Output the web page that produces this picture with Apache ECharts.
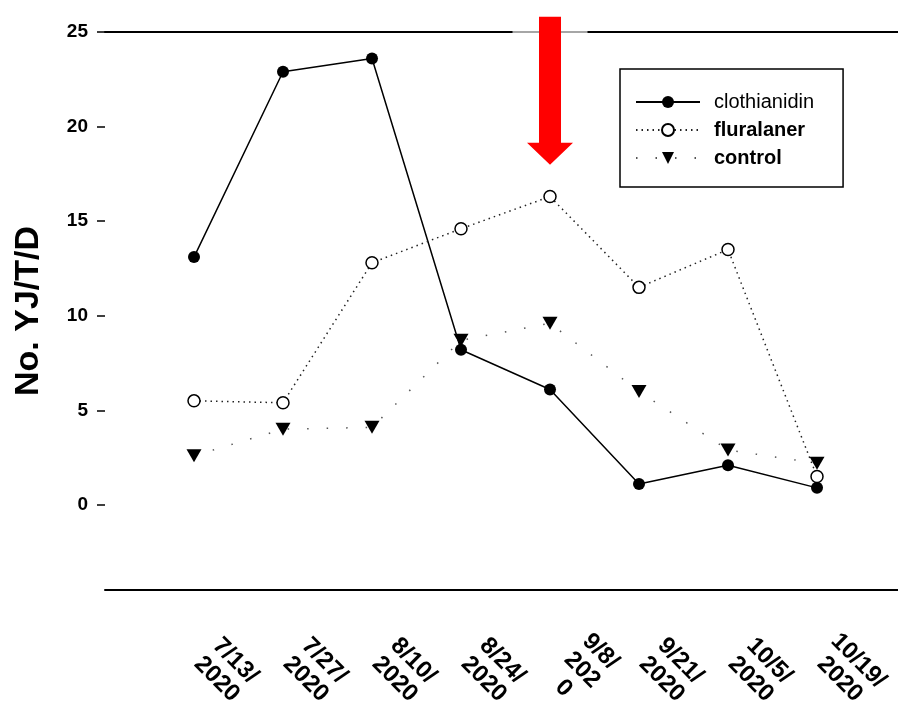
<!DOCTYPE html>
<html>
<head>
<meta charset="utf-8">
<script src="https://cdn.jsdelivr.net/npm/echarts@6/dist/echarts.min.js"></script>
<style>
html,body{margin:0;padding:0;background:#fff;}
#chart{width:898px;height:706px;}
</style>
</head>
<body>
<div id="chart"></div>
<script>
// ---- data ----
const categories = ['7/13/\n2020','7/27/\n2020','8/10/\n2020','8/24/\n2020','9/8/\n202\n0','9/21/\n2020','10/5/\n2020','10/19/\n2020'];
const clothianidin = [13.1, 22.9, 23.6, 8.2, 6.1, 1.1, 2.1, 0.9];
const fluralaner = [5.5, 5.4, 12.8, 14.6, 16.3, 11.5, 13.5, 1.5];
const control = [2.6, 4.0, 4.1, 8.7, 9.6, 6.0, 2.9, 2.2];
const yTicks = [0, 5, 10, 15, 20, 25];
const arrowDateIndex = 4;   // 9/8/2020
const arrowValue = 21.9;

const FONT = 'Liberation Sans, Arial, Helvetica, sans-serif';
const pairs = arr => arr.map((v, i) => [i, v]);
const labelPos = categories.map((c, i) => i + 0.36);

const chart = echarts.init(document.getElementById('chart'), null, {renderer: 'canvas'});
chart.setOption({
  animation: false,
  backgroundColor: '#fff',
  grid: {left: 105, right: 0, top: 32, bottom: 116, containLabel: false, outerBoundsMode: 'none'},
  legend: {
    orient: 'vertical', left: 620, top: 69,
    padding: [23, 29, 19, 15],
    borderColor: '#000', borderWidth: 1.5,
    itemWidth: 64, itemHeight: 15, itemGap: 8,
    textStyle: {fontFamily: FONT, fontSize: 20, color: '#000', lineHeight: 20, padding: [0, 0, 0, 9]},
    data: [
      {name: 'clothianidin', textStyle: {fontWeight: 'normal'}},
      {name: 'fluralaner', textStyle: {fontWeight: 'bold'}},
      {name: 'control', textStyle: {fontWeight: 'bold'}}
    ]
  },
  xAxis: [{
    type: 'value', min: -1, max: 7.91,
    axisLine: {onZero: false, lineStyle: {color: '#000', width: 2}},
    axisTick: {show: false},
    splitLine: {show: false},
    axisLabel: {
      customValues: labelPos,
      rotate: -45, margin: 80,
      align: 'center', verticalAlign: 'middle',
      fontFamily: FONT, fontSize: 24, fontWeight: 'bold', color: '#000', lineHeight: 26,
      formatter: v => categories[Math.round(v)] || ''
    }
  }, {
    type: 'value', position: 'top', min: -1, max: 7.91,
    axisLine: {show: true, onZero: false, lineStyle: {color: '#000', width: 2}},
    axisTick: {show: false}, axisLabel: {show: false}, splitLine: {show: false}
  }],
  yAxis: {
    type: 'value', min: -4.5, max: 25,
    name: 'No. YJ/T/D', nameLocation: 'middle', nameGap: 59,
    nameTextStyle: {fontFamily: FONT, fontSize: 34, fontWeight: 'bold', color: '#000'},
    axisLine: {show: false, onZero: false},
    axisTick: {show: true, customValues: yTicks, length: 8, lineStyle: {color: '#000', width: 1.5}},
    axisLabel: {customValues: yTicks, margin: 17, fontFamily: FONT, fontSize: 19, fontWeight: 'bold', color: '#000'},
    splitLine: {show: false}
  },
  series: [{
    name: 'clothianidin', type: 'line', data: pairs(clothianidin),
    symbol: 'circle', symbolSize: 12,
    itemStyle: {color: '#000'},
    lineStyle: {color: '#000', width: 1.5},
    markPoint: {
      silent: true, label: {show: false},
      data: [
        {coord: [arrowDateIndex, arrowValue], symbol: 'rect', symbolSize: [75, 172],
         itemStyle: {color: 'rgba(255,255,255,0.65)'}},
        {coord: [arrowDateIndex, arrowValue],
         symbol: 'path://M12,0 L34,0 L34,126 L46,126 L23,148 L0,126 L12,126 Z',
         symbolSize: [46, 148], symbolKeepAspect: false,
         itemStyle: {color: '#ff0000'}}
      ]
    }
  }, {
    name: 'fluralaner', type: 'line', data: pairs(fluralaner),
    symbol: 'circle', symbolSize: 12,
    itemStyle: {color: '#fff', borderColor: '#000', borderWidth: 1.5},
    lineStyle: {color: '#222', width: 1.5, type: [1.5, 4]}
  }, {
    name: 'control', type: 'line', data: pairs(control),
    symbol: 'triangle', symbolRotate: 180, symbolSize: [15, 13],
    itemStyle: {color: '#000'},
    lineStyle: {color: '#555', width: 1.5, type: [1.5, 18]}
  }]
});
</script>
</body>
</html>
